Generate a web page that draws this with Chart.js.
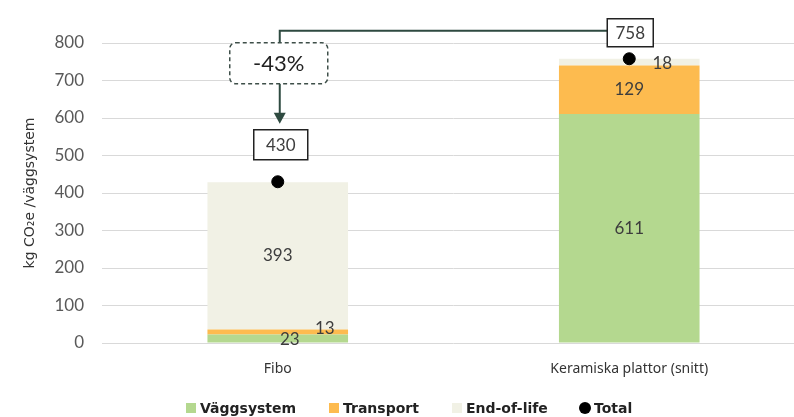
<!DOCTYPE html>
<html><head><meta charset="utf-8">
<script src="https://cdn.jsdelivr.net/npm/chart.js@4"></script>
<style>
html,body{margin:0;padding:0;background:#fff;overflow:hidden;width:794px;height:417px;}
#wrap{position:absolute;left:0;top:0;width:812px;height:417px;}
#legend{position:absolute;left:0;top:399px;width:794px;height:18px;font-family:"DejaVu Sans",sans-serif;font-weight:bold;font-size:14px;color:#222;}
#legend .it{position:absolute;top:0;display:flex;align-items:center;height:18px;}
#legend .sw{width:10px;height:10px;margin-right:4px;}
</style></head>
<body>
<div id="wrap"><canvas id="c" width="812" height="417"></canvas></div>
<div id="legend"></div>
<script>
const categories = ['Fibo', 'Keramiska plattor (snitt)'];
const vaggsystem = [23, 611];
const transport = [13, 129];
const endOfLife = [393, 18];
const totals = [430, 758];
const reductionLabel = '-43%';
const yTicks = [0, 100, 200, 300, 400, 500, 600, 700, 800];
const seriesNames = ['Väggsystem', 'Transport', 'End-of-life', 'Total'];
const colors = ['#b4d88f', '#fdbb4f', '#f1f1e5', '#000000'];

const FONT = 'Lato, "Noto Sans", sans-serif';

const annot = {
  id: 'annot',
  afterDatasetsDraw(chart) {
    const ctx = chart.ctx, x = chart.scales.x, y = chart.scales.y;
    const xF = x.getPixelForValue(0), xK = x.getPixelForValue(1);
    ctx.save();
    ctx.fillStyle = '#3d3d3d';
    ctx.font = '17px ' + FONT;
    ctx.textAlign = 'center'; ctx.textBaseline = 'middle';
    const mid = (a, b) => y.getPixelForValue((a + b) / 2);
    ctx.fillText(String(endOfLife[0]), xF, mid(vaggsystem[0] + transport[0], vaggsystem[0] + transport[0] + endOfLife[0]));
    ctx.fillText(String(vaggsystem[0]), xF + 12, mid(0, vaggsystem[0]) + 1);
    ctx.fillText(String(transport[0]), xF + 47, mid(vaggsystem[0], vaggsystem[0] + transport[0]) - 3);
    ctx.fillText(String(vaggsystem[1]), xK, mid(0, vaggsystem[1]));
    ctx.fillText(String(transport[1]), xK, mid(vaggsystem[1], vaggsystem[1] + transport[1]));
    ctx.fillText(String(endOfLife[1]), xK + 33, mid(vaggsystem[1] + transport[1], totals[1]) + 1);

    const box = (cx, cy, w, h, txt) => {
      ctx.fillStyle = '#fff';
      ctx.fillRect(cx - w / 2, cy - h / 2, w, h);
      ctx.strokeStyle = '#222'; ctx.lineWidth = 1.5;
      ctx.strokeRect(cx - w / 2, cy - h / 2, w, h);
      ctx.fillStyle = '#3d3d3d';
      ctx.fillText(txt, cx, cy + 1);
    };
    const yTF = y.getPixelForValue(totals[0]), yTK = y.getPixelForValue(totals[1]);
    const bF = { cx: xF + 3, cy: yTF - 37, w: 54, h: 30 };
    const bK = { cx: xK + 1, cy: yTK - 26, w: 46, h: 28 };

    const dashCy = y.getPixelForValue(746);
    const dashH = 41, dashW = 98;
    const connX = xF + 2;
    ctx.strokeStyle = '#2e4a40'; ctx.lineWidth = 2;
    ctx.beginPath();
    ctx.moveTo(bK.cx - bK.w / 2, bK.cy - 2);
    ctx.lineTo(connX, bK.cy - 2);
    ctx.lineTo(connX, dashCy - dashH / 2);
    ctx.stroke();
    const arrowTip = bF.cy - bF.h / 2 - 6;
    ctx.beginPath();
    ctx.moveTo(connX, dashCy + dashH / 2);
    ctx.lineTo(connX, arrowTip - 8);
    ctx.stroke();
    ctx.fillStyle = '#2e4a40';
    ctx.beginPath();
    ctx.moveTo(connX - 6, arrowTip - 11);
    ctx.lineTo(connX + 6, arrowTip - 11);
    ctx.lineTo(connX, arrowTip);
    ctx.closePath(); ctx.fill();

    ctx.font = '17px ' + FONT;
    box(bF.cx, bF.cy, bF.w, bF.h, String(totals[0]));
    box(bK.cx, bK.cy, bK.w, bK.h, String(totals[1]));

    ctx.fillStyle = '#fff';
    ctx.setLineDash([4, 3]);
    ctx.strokeStyle = '#3e4f49'; ctx.lineWidth = 1.5;
    ctx.beginPath();
    ctx.roundRect(connX - dashW / 2 - 1, dashCy - dashH / 2, dashW, dashH, 6);
    ctx.fill(); ctx.stroke();
    ctx.setLineDash([]);
    ctx.fillStyle = '#222';
    ctx.font = '22px ' + FONT;
    ctx.fillText(reductionLabel, connX - 1, dashCy + 1);
    ctx.restore();
  }
};

new Chart(document.getElementById('c'), {
  data: {
    labels: categories,
    datasets: [
      { type: 'bar', label: seriesNames[0], data: vaggsystem, backgroundColor: colors[0], stack: 's', order: 2 },
      { type: 'bar', label: seriesNames[1], data: transport, backgroundColor: colors[1], stack: 's', order: 2 },
      { type: 'bar', label: seriesNames[2], data: endOfLife, backgroundColor: colors[2], stack: 's', order: 2 },
      { type: 'line', label: seriesNames[3], data: totals, stack: 't', showLine: false, pointRadius: 6,
        pointBackgroundColor: colors[3], pointBorderColor: colors[3], order: 1 }
    ]
  },
  options: {
    responsive: false,
    animation: false,
    events: [],
    layout: { padding: { top: 43, bottom: 30, left: 0, right: 0 } },
    datasets: { bar: { barPercentage: 0.4, categoryPercentage: 1.0 } },
    plugins: { legend: { display: false }, tooltip: { enabled: false } },
    scales: {
      x: {
        stacked: true,
        grid: { display: false },
        border: { display: false },
        ticks: { color: '#333', font: { family: '"Noto Sans", sans-serif', size: 14 }, padding: 10 },
        afterFit: s => { s.height = 44; }
      },
      y: {
        stacked: true,
        min: 0, max: 800,
        afterBuildTicks: s => { s.ticks = yTicks.map(v => ({ value: v })); },
        grid: { color: '#d9d9d9', lineWidth: 1, drawTicks: false },
        border: { display: false },
        ticks: { color: '#595959', font: { family: FONT, size: 17 }, padding: 18 },
        title: { display: true, text: 'kg CO₂e /väggsystem', color: '#333', font: { family: '"DejaVu Sans", sans-serif', size: 14 }, padding: { top: 22, bottom: 0 } },
        afterFit: s => { s.width = 102; }
      }
    }
  },
  plugins: [annot]
});

const legendX = [186, 329, 452, 579];
const lg = document.getElementById('legend');
seriesNames.forEach((n, i) => {
  const it = document.createElement('div'); it.className = 'it';
  it.style.left = legendX[i] + 'px';
  const sw = document.createElement('div'); sw.className = 'sw';
  sw.style.background = colors[i];
  if (i === 3) { sw.style.borderRadius = '50%'; sw.style.width = '12px'; sw.style.height = '12px'; sw.style.marginRight = '3px'; }
  const t = document.createElement('span'); t.textContent = n;
  it.appendChild(sw); it.appendChild(t); lg.appendChild(it);
});
</script>
</body></html>
